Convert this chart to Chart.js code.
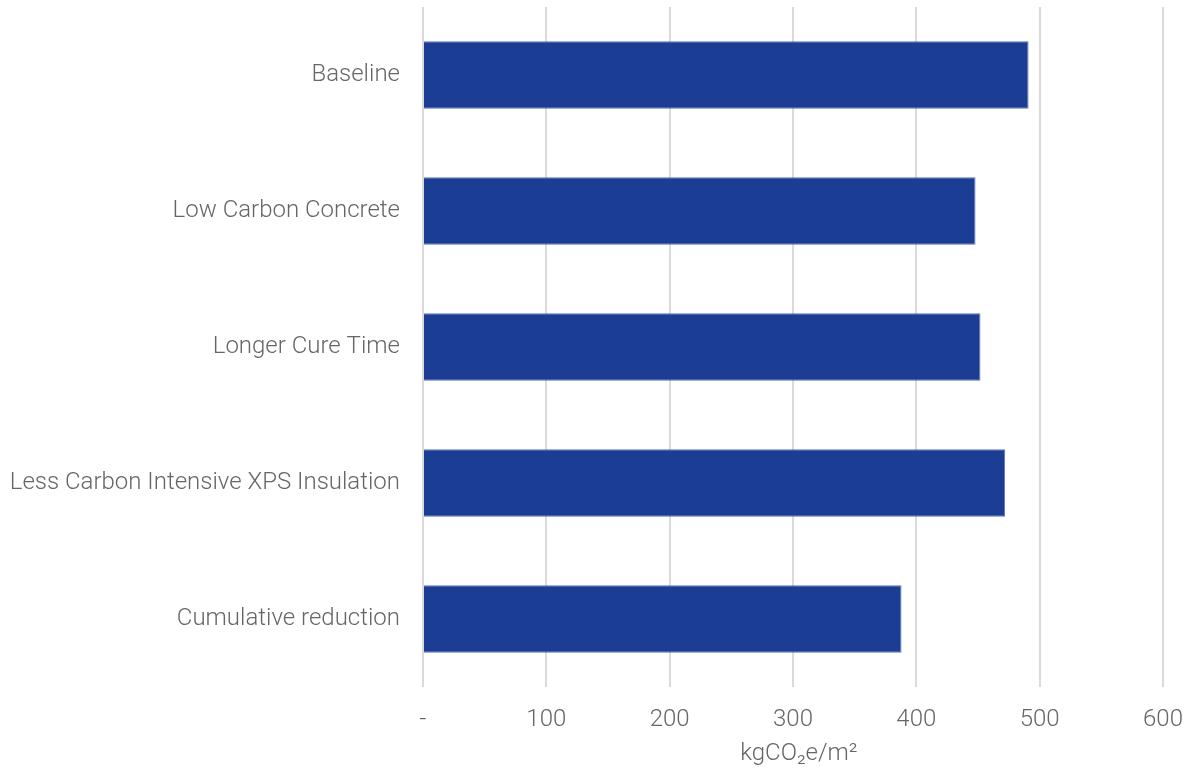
<!DOCTYPE html>
<html>
<head>
<meta charset="utf-8">
<script src="https://cdn.jsdelivr.net/npm/chart.js@4/dist/chart.umd.min.js"></script>
<style>
  html, body { margin: 0; padding: 0; background: #ffffff; }
  #wrap { width: 1188px; height: 769px; }
</style>
</head>
<body>
<div id="wrap"><canvas id="c" width="1188" height="769"></canvas></div>
<script>
// Embodied carbon per floor area for each design option
const categories = [
  'Baseline',
  'Low Carbon Concrete',
  'Longer Cure Time',
  'Less Carbon Intensive XPS Insulation',
  'Cumulative reduction'
];
const values = [491, 448, 452, 472, 388];
const tickValues = [0, 100, 200, 300, 400, 500, 600];
const tickLabels = ['-', '100', '200', '300', '400', '500', '600'];
const axisTitle = '  kgCO\u2082e/m\u00B2';

const textColor = '#666666';
const fontFamily = 'Roboto, "Noto Sans", sans-serif';
const labelFont = { family: fontFamily, size: 24, weight: '300' };

new Chart(document.getElementById('c'), {
  type: 'bar',
  data: {
    labels: categories,
    datasets: [{
      data: values,
      backgroundColor: '#1c3d94',
      borderColor: '#5a74b9',
      borderWidth: 1,
      categoryPercentage: 1,
      barPercentage: 0.495
    }]
  },
  options: {
    indexAxis: 'y',
    responsive: false,
    animation: false,
    layout: { padding: { top: 7, right: 25, bottom: 0, left: 0 } },
    plugins: {
      legend: { display: false },
      tooltip: { enabled: false }
    },
    scales: {
      x: {
        min: 0,
        max: 600,
        afterBuildTicks: (scale) => { scale.ticks = tickValues.map(v => ({ value: v })); },
        afterFit: (scale) => {
          scale.height = 82;
          scale.paddingLeft = 0;
          scale.paddingRight = 0;
        },
        grid: { color: '#dadada', lineWidth: 2, drawTicks: false },
        border: { display: false },
        ticks: {
          padding: 19,
          color: textColor,
          font: labelFont,
          maxRotation: 0,
          callback: (v) => tickLabels[tickValues.indexOf(v)]
        },
        title: {
          display: true,
          text: axisTitle,
          color: textColor,
          padding: { top: 0, bottom: 1 },
          font: labelFont
        }
      },
      y: {
        afterFit: (scale) => {
          scale.width = 423;
          scale.paddingTop = 0;
          scale.paddingBottom = 0;
        },
        grid: { display: false, drawTicks: false },
        border: { display: false },
        ticks: {
          padding: 23,
          color: textColor,
          font: labelFont
        }
      }
    }
  }
});
</script>
</body>
</html>
